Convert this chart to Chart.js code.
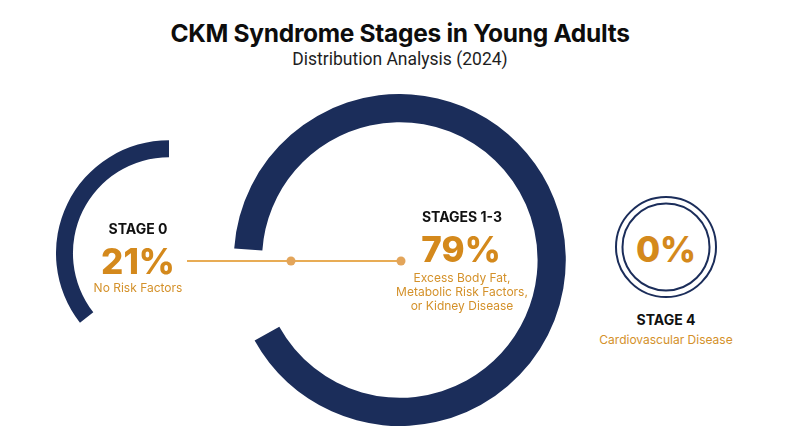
<!DOCTYPE html>
<html>
<head>
<meta charset="utf-8">
<script src="https://cdn.jsdelivr.net/npm/chart.js@4.4.1/dist/chart.umd.min.js"></script>
<style>
  html, body { margin: 0; padding: 0; background: #fff; }
  #page { position: relative; width: 800px; height: 447px; overflow: hidden; font-family: Inter, "Noto Sans", sans-serif; }
  canvas { position: absolute; }
  .txt { position: absolute; transform: translate(-50%, -50%); white-space: nowrap; line-height: 1; text-align: center; }
  .title { font-weight: 700; font-size: 24.5px; color: #0d0d0d; letter-spacing: -0.3px; }
  .sub { font-size: 17.5px; color: #1e1e1e; font-family: Roboto, sans-serif; }
  .stage { font-weight: 700; font-size: 14px; color: #111; }
  .pct { font-weight: 800; font-size: 35px; color: #d4891c; }
  .note { font-size: 12px; color: #d4912a; line-height: 14px; }
  .link { position: absolute; height: 2px; background: #e8ac55; }
  .dot { position: absolute; width: 9px; height: 9px; border-radius: 50%; background: #e3a55a; transform: translate(-50%, -50%); }
  .ring { position: absolute; border: 2px solid #1b2d5a; border-radius: 50%; transform: translate(-50%, -50%); box-sizing: border-box; }
</style>
</head>
<body>
<div id="page">
  <canvas id="arcStage0" width="113" height="183" style="left:56px;top:140px;"></canvas>
  <canvas id="arcStages13" width="332" height="332" style="left:234px;top:94px;"></canvas>
</div>
<script>
  const stageLabels = ["STAGE 0", "STAGES 1-3", "STAGE 4"];
  const stageValues = [21, 79, 0];
  const stageNotes = [
    ["No Risk Factors"],
    ["Excess Body Fat,", "Metabolic Risk Factors,", "or Kidney Disease"],
    ["Cardiovascular Disease"]
  ];
  const titleText = "CKM Syndrome Stages in Young Adults";
  const subtitleText = "Distribution Analysis (2024)";

  const navy = "#1b2d5a";
  const page = document.getElementById("page");

  function addText(cls, text, x, y) {
    const el = document.createElement("div");
    el.className = "txt " + cls;
    el.style.left = x + "px";
    el.style.top = y + "px";
    el.textContent = text;
    page.appendChild(el);
    return el;
  }

  function arcChart(id, value, rotation, circumference, cutout, radius) {
    return new Chart(document.getElementById(id), {
      type: "doughnut",
      data: {
        labels: [id],
        datasets: [{
          data: [value],
          backgroundColor: [navy],
          borderWidth: 0,
          hoverOffset: 0
        }]
      },
      options: {
        responsive: false,
        animation: false,
        rotation: rotation,
        circumference: circumference,
        cutout: cutout,
        radius: radius,
        layout: { padding: 0 },
        plugins: { legend: { display: false }, tooltip: { enabled: false } },
        events: []
      }
    });
  }

  arcChart("arcStage0", stageValues[0], 232, 128, "85%", 113);
  arcChart("arcStages13", stageValues[1], 274, 327, "83%", 166);

  // connector between stage 0 and stages 1-3
  const link = document.createElement("div");
  link.className = "link";
  link.style.left = "187px";
  link.style.top = "260px";
  link.style.width = "214px";
  page.appendChild(link);
  [291, 401].forEach((x) => {
    const d = document.createElement("div");
    d.className = "dot";
    d.style.left = x + "px";
    d.style.top = "261px";
    page.appendChild(d);
  });

  // stage 4 double ring
  [[102, 102], [89, 89]].forEach(([w, h]) => {
    const r = document.createElement("div");
    r.className = "ring";
    r.style.width = w + "px";
    r.style.height = h + "px";
    r.style.left = "666px";
    r.style.top = "247px";
    page.appendChild(r);
  });

  addText("title", titleText, 400, 33);
  addText("sub", subtitleText, 400, 60);

  addText("stage", stageLabels[0], 138, 229);
  addText("pct", stageValues[0] + "%", 138, 261);
  addText("note", stageNotes[0][0], 138, 288);

  addText("stage", stageLabels[1], 462, 217);
  addText("pct", stageValues[1] + "%", 461, 249);
  stageNotes[1].forEach((line, i) => addText("note", line, 462, 278 + i * 14));

  addText("pct", stageValues[2] + "%", 666, 249);
  addText("stage", stageLabels[2], 666, 320);
  addText("note", stageNotes[2][0], 666, 340);
</script>
</body>
</html>
